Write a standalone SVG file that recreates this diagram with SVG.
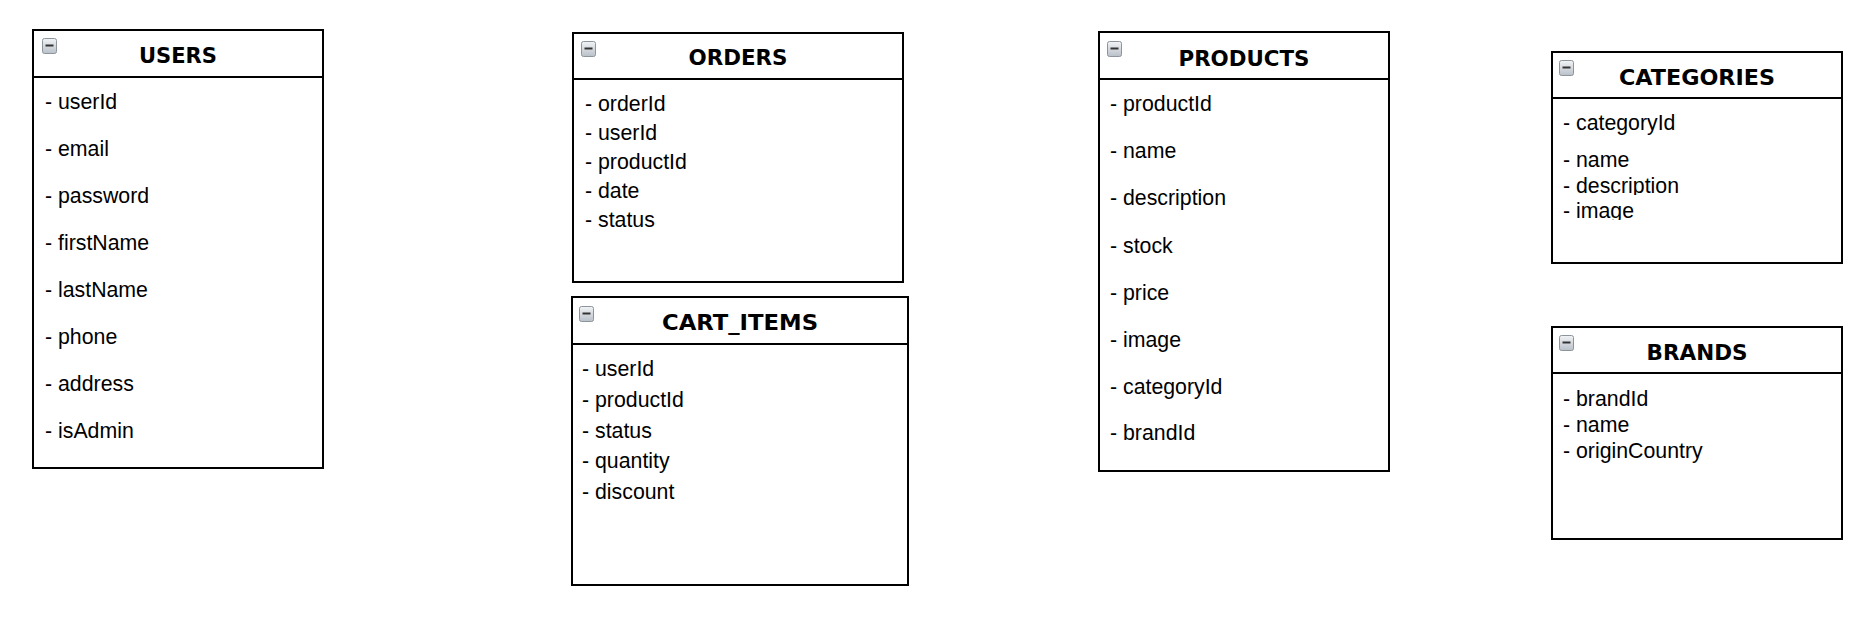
<svg xmlns="http://www.w3.org/2000/svg" width="1863" height="641" viewBox="0 0 1863 641">
<style>
.box{fill:#fff;stroke:#000;stroke-width:2}
.sep{stroke:#000;stroke-width:2}
.title{font-family:"DejaVu Sans",Verdana,sans-serif;font-weight:bold;font-size:21px;fill:#000;text-anchor:middle}
.item{font-family:"Liberation Sans",Arial,sans-serif;font-size:21.3px;fill:#000}
.ic{fill:url(#icg);stroke:#8d949c;stroke-width:1}
.icd{stroke:#333;stroke-width:2}
</style>
<defs>
<linearGradient id="icg" x1="0" y1="0" x2="0" y2="1">
<stop offset="0" stop-color="#f2f4f6"/>
<stop offset="1" stop-color="#b9c0c8"/>
</linearGradient>
<g id="icon"><rect class="ic" x="0.5" y="0.5" width="14" height="15" rx="2"/><line class="icd" x1="3.5" y1="7.5" x2="11.5" y2="7.5"/></g>
<clipPath id="c1"><rect x="1553" y="170" width="288" height="25"/></clipPath>
<clipPath id="c2"><rect x="1553" y="196" width="288" height="24"/></clipPath>
</defs>
<rect width="1863" height="641" fill="#fff"/>
<g id="connectors"></g>

<g id="users">
<rect class="box" x="33" y="30" width="290" height="438"/>
<line class="sep" x1="33" y1="77" x2="323" y2="77"/>
<use href="#icon" x="42" y="38"/>
<text class="title" x="178" y="63" textLength="78" lengthAdjust="spacingAndGlyphs">USERS</text>
<text class="item" x="45" y="108.5">- userId</text>
<text class="item" x="45" y="155.5">- email</text>
<text class="item" x="45" y="202.5">- password</text>
<text class="item" x="45" y="249.5">- firstName</text>
<text class="item" x="45" y="296.5">- lastName</text>
<text class="item" x="45" y="343.5">- phone</text>
<text class="item" x="45" y="390.5">- address</text>
<text class="item" x="45" y="437.5">- isAdmin</text>
</g>

<g id="orders">
<rect class="box" x="573" y="33" width="330" height="249"/>
<line class="sep" x1="573" y1="79" x2="903" y2="79"/>
<use href="#icon" x="581" y="41"/>
<text class="title" x="738" y="65" textLength="99" lengthAdjust="spacingAndGlyphs">ORDERS</text>
<text class="item" x="585" y="111">- orderId</text>
<text class="item" x="585" y="140">- userId</text>
<text class="item" x="585" y="169">- productId</text>
<text class="item" x="585" y="198">- date</text>
<text class="item" x="585" y="227">- status</text>
</g>

<g id="cart_items">
<rect class="box" x="572" y="297" width="336" height="288"/>
<line class="sep" x1="572" y1="344" x2="908" y2="344"/>
<use href="#icon" x="579" y="306"/>
<text class="title" x="740" y="330" textLength="156" lengthAdjust="spacingAndGlyphs">CART_ITEMS</text>
<text class="item" x="582" y="376">- userId</text>
<text class="item" x="582" y="407">- productId</text>
<text class="item" x="582" y="438">- status</text>
<text class="item" x="582" y="468">- quantity</text>
<text class="item" x="582" y="499">- discount</text>
</g>

<g id="products">
<rect class="box" x="1099" y="32" width="290" height="439"/>
<line class="sep" x1="1099" y1="79" x2="1389" y2="79"/>
<use href="#icon" x="1107" y="41"/>
<text class="title" x="1244" y="66" textLength="131" lengthAdjust="spacingAndGlyphs">PRODUCTS</text>
<text class="item" x="1110" y="111">- productId</text>
<text class="item" x="1110" y="158">- name</text>
<text class="item" x="1110" y="205">- description</text>
<text class="item" x="1110" y="253">- stock</text>
<text class="item" x="1110" y="300">- price</text>
<text class="item" x="1110" y="347">- image</text>
<text class="item" x="1110" y="394">- categoryId</text>
<text class="item" x="1110" y="440">- brandId</text>
</g>

<g id="categories">
<rect class="box" x="1552" y="52" width="290" height="211"/>
<line class="sep" x1="1552" y1="98" x2="1842" y2="98"/>
<use href="#icon" x="1559" y="60"/>
<text class="title" x="1697" y="85" textLength="156" lengthAdjust="spacingAndGlyphs">CATEGORIES</text>
<text class="item" x="1563" y="130">- categoryId</text>
<text class="item" x="1563" y="167">- name</text>
<text class="item" x="1563" y="193" clip-path="url(#c1)">- description</text>
<text class="item" x="1563" y="218" clip-path="url(#c2)">- image</text>
</g>

<g id="brands">
<rect class="box" x="1552" y="327" width="290" height="212"/>
<line class="sep" x1="1552" y1="373" x2="1842" y2="373"/>
<use href="#icon" x="1559" y="335"/>
<text class="title" x="1697" y="360" textLength="101" lengthAdjust="spacingAndGlyphs">BRANDS</text>
<text class="item" x="1563" y="406">- brandId</text>
<text class="item" x="1563" y="432">- name</text>
<text class="item" x="1563" y="458">- originCountry</text>
</g>
</svg>
